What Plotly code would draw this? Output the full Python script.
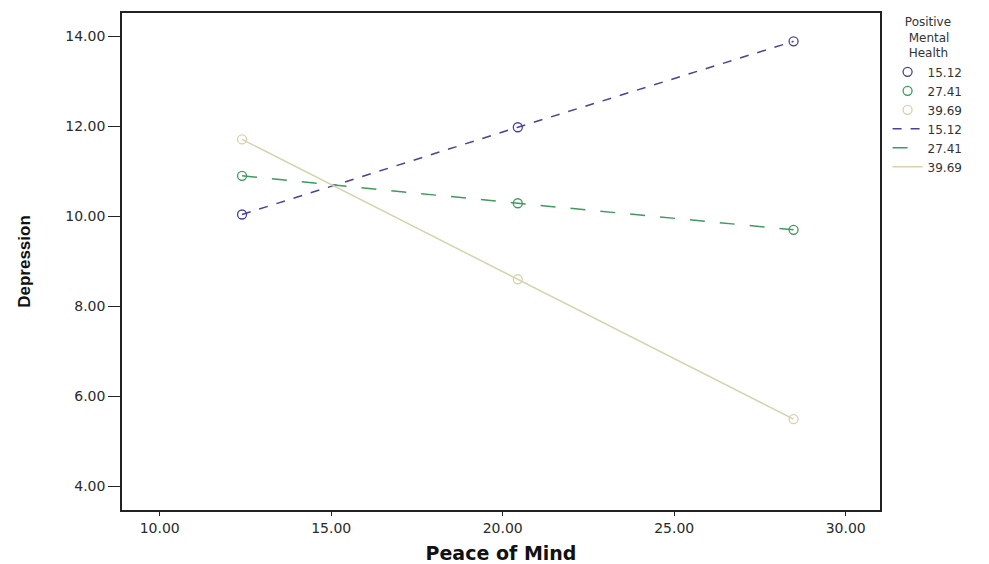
import plotly.graph_objects as go

# Data
peace_of_mind = [12.40, 20.44, 28.48]
groups = ["15.12", "27.41", "39.69"]
depression = {
    "15.12": [10.04, 11.98, 13.89],
    "27.41": [10.90, 10.29, 9.70],
    "39.69": [11.71, 8.60, 5.49],
}
y_ticks = [4, 6, 8, 10, 12, 14]
x_ticks = [10, 15, 20, 25, 30]

colors = {"15.12": "#44449c", "27.41": "#3f9a5e", "39.69": "#d6d2ad"}
dashes = {"15.12": "dash", "27.41": "longdash", "39.69": "solid"}

fig = go.Figure()
# marker legend entries (with markers on the chart)
for g in groups:
    fig.add_trace(go.Scatter(
        x=peace_of_mind, y=depression[g], mode="markers", name=g,
        legendgroup="m" + g, legendrank=1,
        marker=dict(symbol="circle-open", size=9, color=colors[g], line=dict(width=1.3, color=colors[g])),
    ))
# line legend entries
for g in groups:
    fig.add_trace(go.Scatter(
        x=peace_of_mind, y=depression[g], mode="lines", name=g,
        legendgroup="l" + g, legendrank=2,
        line=dict(color=colors[g], width=1.5, dash=dashes[g]),
    ))

tick_font = dict(family="DejaVu Sans, Verdana, sans-serif", size=14, color="#2a2a2a")
axis_common = dict(
    showline=True, linecolor="#222", linewidth=1.6, mirror=True,
    ticks="outside", tickcolor="#222", tickwidth=1.2,
    showgrid=False, zeroline=False, tickfont=tick_font,
)

nb = "&nbsp;"
legend_title = f"{nb*4}Positive<br>{nb*5}Mental<br>{nb*5}Health"

fig.update_layout(
    width=981, height=556,
    margin=dict(l=114, r=109, t=3, b=52),
    paper_bgcolor="white", plot_bgcolor="white",
    xaxis=dict(range=[8.9, 31.0], tickvals=x_ticks, tickformat=".2f", ticklen=4,
               title=dict(text="<b>Peace of Mind</b>", standoff=12,
                          font=dict(family="DejaVu Sans, Verdana, sans-serif", size=19, color="#111")),
               **axis_common),
    yaxis=dict(range=[3.47, 14.52], tickvals=y_ticks, tickformat=".2f", ticklen=12,
               title=dict(text="<b>Depression</b>", standoff=30,
                          font=dict(family="Liberation Sans, Arial, sans-serif", size=17, color="#111")),
               **axis_common),
    legend=dict(
        x=1.01, y=1.005, xanchor="left", yanchor="top",
        title=dict(text=legend_title, side="top",
                   font=dict(family="DejaVu Sans, Verdana, sans-serif", size=12, color="#333")),
        font=dict(family="DejaVu Sans, Verdana, sans-serif", size=12, color="#333"),
        tracegroupgap=0, itemwidth=30, bgcolor="rgba(0,0,0,0)",
    ),
    showlegend=True,
)

fig.write_html("out.html")
